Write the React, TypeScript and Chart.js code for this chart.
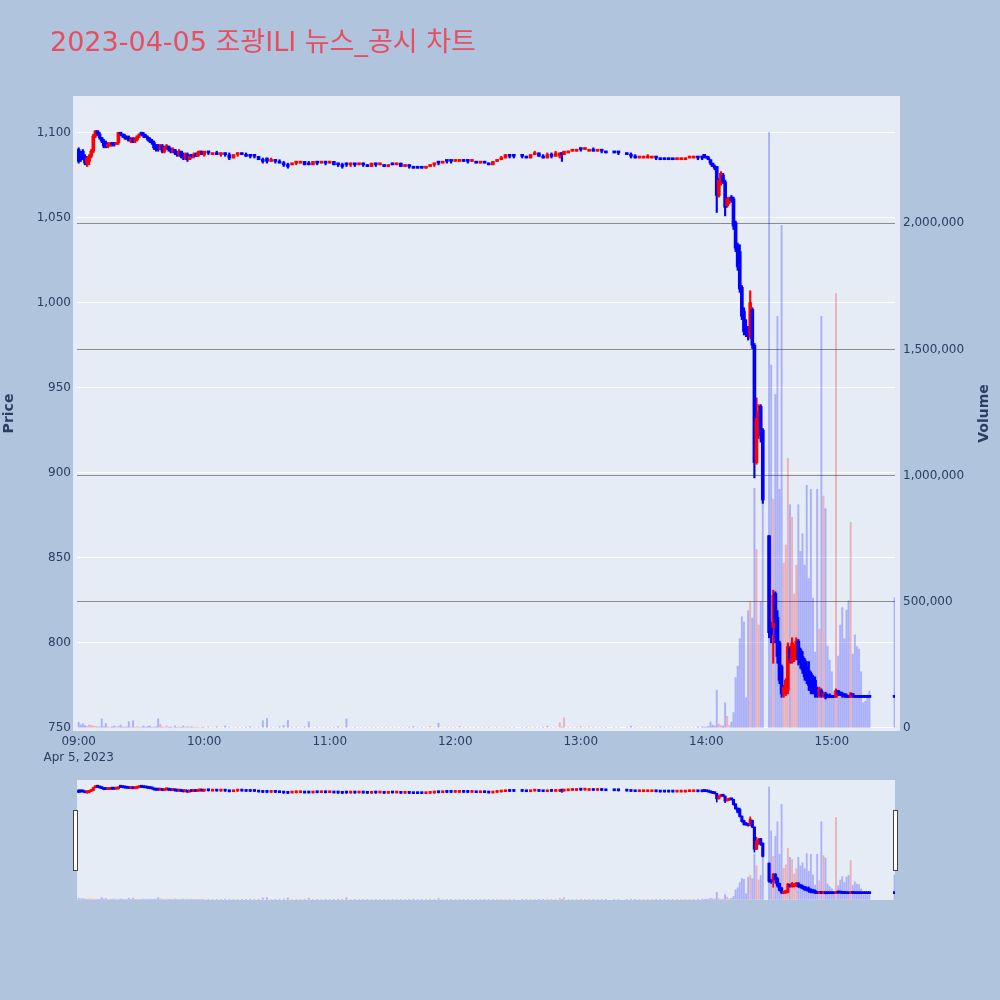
import React, { useEffect, useRef } from 'react';
import { Chart, registerables } from 'chart.js';

Chart.register(...registerables);

// ---------- texts ----------
const TITLE = '2023-04-05 조광ILI 뉴스_공시 차트';
const PRICE_TITLE = 'Price';
const VOLUME_TITLE = 'Volume';
const DATE_LABEL = 'Apr 5, 2023';

// ---------- axes ----------
const X_TICKS = [0, 60, 120, 180, 240, 300, 360];
const X_TICK_LABELS = ['09:00', '10:00', '11:00', '12:00', '13:00', '14:00', '15:00'];
const PRICE_TICKS = [750, 800, 850, 900, 950, 1000, 1050, 1100];
const VOLUME_TICKS = [0, 500000, 1000000, 1500000, 2000000];
const X_RANGE = [-0.8, 390.2];
const PRICE_RANGE = [748.2, 1121.45];
const VOLUME_RANGE = [-11900, 2504500];

// ---------- data (minutes after 09:00) ----------
const MINUTES = [
  0, 1, 2, 3, 4, 5, 6, 7, 8, 9,
  10, 11, 12, 13, 14, 15, 16, 17, 18, 19,
  20, 21, 22, 23, 24, 25, 26, 27, 28, 29,
  30, 31, 32, 33, 34, 35, 36, 37, 38, 39,
  40, 41, 42, 43, 44, 45, 46, 47, 48, 49,
  50, 51, 52, 53, 54, 55, 56, 57, 58, 59,
  60, 62, 64, 66, 68, 70, 72, 74, 76, 78,
  80, 82, 84, 86, 88, 90, 92, 94, 96, 98,
  100, 102, 104, 106, 108, 110, 112, 114, 116, 118,
  120, 122, 124, 126, 128, 130, 132, 134, 136, 138,
  140, 142, 144, 146, 148, 150, 152, 154, 156, 158,
  160, 162, 164, 166, 168, 170, 172, 174, 176, 178,
  180, 182, 184, 186, 188, 190, 192, 194, 196, 198,
  200, 202, 204, 206, 208,
  212, 214, 216, 218, 220, 222, 224, 226, 228, 230,
  231,
  232, 234, 236, 238, 240, 242, 244, 246, 248, 250, 252,
  256, 258,
  262, 264, 266, 268, 270, 272, 274, 276, 278, 280, 282, 284, 286, 288, 290, 292, 294, 296, 298,
  299, 300, 301, 302, 303, 304, 305, 306, 307, 308, 309,
  310, 311, 312, 313, 314, 315, 316, 317, 318, 319,
  320, 321, 322, 323, 324, 325, 326, 327,
  330, 331, 332, 333, 334, 335, 336, 337, 338, 339,
  340, 341, 342, 343, 344, 345, 346, 347, 348, 349,
  350, 351, 352, 353, 354, 355, 356, 357, 358, 359,
  360, 361, 362, 363, 364, 365, 366, 367, 368, 369,
  370, 371, 372, 373, 374, 375, 376, 377, 378,
  390,
];

const OPEN = [
  1090, 1088, 1089, 1086, 1082, 1083, 1086, 1089, 1098, 1101,
  1099, 1097, 1095, 1094, 1092, 1092, 1094, 1093, 1093, 1094,
  1100, 1099, 1098, 1097, 1097, 1095, 1096, 1095, 1096, 1098,
  1099, 1099, 1098, 1097, 1096, 1095, 1094, 1091, 1092, 1090,
  1092, 1089, 1091, 1092, 1090, 1089, 1090, 1088, 1087, 1089,
  1086, 1085, 1087, 1084, 1086, 1086, 1087, 1086, 1088, 1089,
  1087, 1089, 1087, 1088, 1087, 1088, 1087, 1085, 1087, 1088,
  1087, 1086, 1086, 1086, 1084, 1085, 1083, 1084, 1083, 1082,
  1081, 1081, 1082, 1082, 1083, 1082, 1081, 1083, 1082, 1083,
  1082, 1083, 1081, 1081, 1082, 1081, 1082, 1081, 1082, 1081,
  1080, 1082, 1081, 1081, 1080, 1081, 1081, 1082, 1080, 1081,
  1080, 1079, 1079, 1079, 1080, 1081, 1083, 1082, 1083, 1083,
  1083, 1083, 1084, 1083, 1083, 1083, 1082, 1082, 1082, 1081,
  1083, 1084, 1085, 1087, 1086,
  1086, 1086, 1085, 1087, 1088, 1086, 1085, 1087, 1086, 1086,
  1088,
  1087, 1088, 1089, 1089, 1090, 1090, 1089, 1090, 1089, 1089, 1089,
  1088, 1088,
  1088, 1087, 1086, 1085, 1085, 1085, 1085, 1086, 1085, 1084, 1084, 1084, 1084, 1084, 1084, 1085, 1085, 1086, 1085,
  1086, 1086, 1085, 1084, 1082, 1080, 1080, 1063, 1070, 1075, 1071,
  1057, 1059, 1062, 1061, 1047, 1034, 1030, 1009, 995, 986,
  983, 980, 996, 975, 906, 925, 939, 925,
  863, 810, 809, 829, 815, 800, 786, 770, 770, 772,
  797, 789, 790, 792, 801, 796, 792, 790, 786, 784,
  782, 780, 778, 772, 769, 772, 769, 770, 769, 769,
  769, 768, 768, 772, 771, 770, 770, 769, 769, 768,
  770, 769, 769, 768, 768, 768, 768, 768, 768,
  768,
];

const HIGH = [
  1091, 1089, 1090, 1087, 1086, 1087, 1090, 1099, 1101, 1101,
  1100, 1097, 1096, 1095, 1094, 1094, 1094, 1094, 1094, 1100,
  1100, 1099, 1099, 1098, 1098, 1097, 1097, 1097, 1098, 1099,
  1100, 1100, 1099, 1098, 1097, 1096, 1095, 1093, 1093, 1093,
  1093, 1092, 1093, 1092, 1091, 1091, 1090, 1089, 1090, 1089,
  1088, 1088, 1088, 1087, 1087, 1088, 1088, 1089, 1089, 1089,
  1089, 1089, 1088, 1089, 1088, 1088, 1088, 1087, 1088, 1088,
  1088, 1087, 1087, 1086, 1085, 1085, 1085, 1084, 1084, 1083,
  1082, 1082, 1083, 1083, 1083, 1083, 1083, 1083, 1083, 1083,
  1083, 1083, 1082, 1082, 1082, 1082, 1082, 1082, 1082, 1081,
  1082, 1082, 1082, 1081, 1081, 1082, 1082, 1082, 1081, 1081,
  1080, 1080, 1080, 1080, 1081, 1082, 1083, 1083, 1083, 1084,
  1084, 1084, 1084, 1084, 1084, 1083, 1083, 1083, 1082, 1083,
  1084, 1086, 1087, 1087, 1086,
  1086, 1086, 1087, 1089, 1088, 1087, 1088, 1088, 1089, 1088,
  1088,
  1089, 1089, 1090, 1090, 1090, 1091, 1090, 1091, 1090, 1089, 1089,
  1089, 1088,
  1088, 1088, 1087, 1086, 1086, 1087, 1086, 1086, 1085, 1085, 1085, 1084, 1085, 1085, 1085, 1086, 1086, 1086, 1086,
  1087, 1086, 1086, 1084, 1082, 1081, 1080, 1073, 1077, 1076, 1072,
  1062, 1062, 1063, 1062, 1048, 1035, 1034, 1010, 997, 990,
  986, 1007, 997, 976, 944, 940, 940, 926,
  863, 812, 831, 830, 819, 801, 787, 775, 779, 800,
  798, 803, 799, 803, 802, 797, 795, 791, 789, 789,
  783, 781, 780, 774, 774, 773, 771, 771, 770, 770,
  769, 769, 773, 772, 771, 771, 770, 770, 769, 771,
  770, 769, 769, 769, 768, 768, 768, 768, 768,
  768,
];

const LOW = [
  1082, 1083, 1084, 1081, 1080, 1081, 1085, 1088, 1097, 1098,
  1096, 1094, 1091, 1091, 1091, 1092, 1092, 1092, 1093, 1093,
  1098, 1097, 1096, 1096, 1095, 1094, 1094, 1094, 1095, 1097,
  1098, 1097, 1097, 1095, 1094, 1093, 1090, 1089, 1089, 1090,
  1088, 1088, 1090, 1089, 1088, 1088, 1087, 1086, 1086, 1085,
  1084, 1084, 1083, 1084, 1085, 1085, 1086, 1086, 1087, 1087,
  1086, 1087, 1087, 1087, 1086, 1086, 1084, 1085, 1086, 1087,
  1086, 1085, 1085, 1084, 1082, 1082, 1083, 1082, 1082, 1080,
  1079, 1081, 1081, 1082, 1081, 1081, 1081, 1081, 1082, 1081,
  1082, 1081, 1080, 1079, 1080, 1080, 1080, 1081, 1080, 1080,
  1080, 1080, 1081, 1080, 1080, 1081, 1081, 1080, 1080, 1079,
  1079, 1079, 1079, 1079, 1080, 1080, 1081, 1082, 1082, 1082,
  1083, 1083, 1083, 1082, 1083, 1082, 1082, 1082, 1081, 1081,
  1083, 1084, 1085, 1085, 1085,
  1085, 1085, 1085, 1087, 1086, 1085, 1085, 1085, 1086, 1085,
  1083,
  1087, 1088, 1089, 1089, 1089, 1090, 1089, 1089, 1089, 1088, 1088,
  1088, 1087,
  1087, 1085, 1085, 1085, 1085, 1085, 1085, 1084, 1084, 1084, 1084, 1084, 1084, 1084, 1084, 1085, 1085, 1084, 1084,
  1085, 1085, 1084, 1081, 1080, 1078, 1053, 1062, 1069, 1070, 1051,
  1056, 1058, 1059, 1043, 1030, 1019, 1006, 990, 981, 980,
  978, 979, 973, 897, 905, 920, 918, 882,
  803, 800, 788, 800, 788, 776, 768, 768, 769, 770,
  788, 788, 789, 790, 787, 785, 782, 778, 776, 772,
  770, 770, 768, 768, 768, 768, 768, 767, 768, 768,
  768, 768, 768, 769, 769, 768, 768, 768, 768, 768,
  768, 768, 768, 768, 768, 768, 768, 768, 768,
  768,
];

const CLOSE = [
  1083, 1085, 1084, 1082, 1085, 1086, 1089, 1098, 1101, 1099,
  1097, 1095, 1092, 1092, 1093, 1094, 1093, 1093, 1094, 1100,
  1099, 1098, 1097, 1096, 1095, 1096, 1095, 1096, 1098, 1099,
  1099, 1098, 1097, 1096, 1095, 1094, 1091, 1090, 1090, 1092,
  1089, 1091, 1092, 1090, 1089, 1090, 1088, 1087, 1089, 1086,
  1085, 1087, 1084, 1086, 1086, 1087, 1086, 1088, 1089, 1087,
  1089, 1088, 1088, 1087, 1088, 1087, 1085, 1087, 1088, 1087,
  1086, 1086, 1086, 1084, 1083, 1083, 1084, 1083, 1082, 1081,
  1080, 1082, 1083, 1083, 1081, 1081, 1083, 1082, 1083, 1082,
  1083, 1081, 1081, 1080, 1081, 1082, 1081, 1082, 1081, 1080,
  1082, 1081, 1082, 1080, 1081, 1081, 1082, 1080, 1081, 1080,
  1079, 1079, 1079, 1080, 1081, 1082, 1082, 1083, 1083, 1083,
  1084, 1084, 1083, 1083, 1084, 1082, 1083, 1082, 1081, 1083,
  1084, 1085, 1087, 1086, 1086,
  1086, 1085, 1087, 1088, 1086, 1085, 1087, 1086, 1088, 1088,
  1087,
  1089, 1089, 1090, 1090, 1090, 1091, 1090, 1089, 1090, 1089, 1088,
  1088, 1088,
  1087, 1086, 1085, 1086, 1086, 1086, 1086, 1085, 1084, 1084, 1084, 1084, 1085, 1085, 1085, 1086, 1086, 1085, 1085,
  1086, 1085, 1084, 1082, 1080, 1079, 1063, 1072, 1076, 1071, 1056,
  1061, 1061, 1060, 1045, 1032, 1021, 1008, 992, 983, 982,
  980, 1000, 975, 906, 932, 936, 922, 884,
  806, 805, 828, 812, 792, 778, 770, 774, 778, 798,
  790, 800, 797, 801, 790, 788, 784, 780, 778, 775,
  772, 771, 770, 769, 773, 769, 770, 768, 768, 768,
  768, 768, 772, 770, 770, 769, 769, 768, 768, 770,
  769, 768, 768, 768, 768, 768, 768, 768, 768,
  768,
];

const VOLUME = [
  22000, 12000, 17000, 10000, 6000, 12000, 10000, 8000, 6000, 5000,
  4000, 36000, 6000, 18000, 4000, 3000, 5000, 8000, 4000, 6000,
  12000, 4000, 3000, 5000, 25000, 4000, 29000, 3000, 5000, 4000,
  3000, 8000, 3000, 6000, 8000, 3000, 4000, 5000, 36000, 15000,
  4000, 3000, 8000, 3000, 4000, 3000, 8000, 3000, 4000, 3000,
  8000, 3000, 5000, 3000, 5000, 3000, 2000, 3000, 2000, 3000,
  3000, 4000, 2000, 5000, 2000, 8000, 3000, 2000, 3000, 2000,
  3000, 5000, 2000, 3000, 29000, 38000, 3000, 2000, 5000, 10000,
  30000, 3000, 4000, 2000, 5000, 25000, 2000, 3000, 2000, 2000,
  3000, 2000, 5000, 2000, 36000, 2000, 3000, 2000, 2000, 2000,
  3000, 2000, 2000, 2000, 3000, 2000, 2000, 2000, 2000, 3000,
  6000, 2000, 2000, 2000, 6000, 2000, 19000, 2000, 2000, 2000,
  3000, 6000, 2000, 2000, 2000, 2000, 2000, 2000, 3000, 2000,
  3000, 2000, 3000, 2000, 2000,
  2000, 3000, 2000, 3000, 2000, 3000, 8000, 2000, 3000, 21000,
  3000,
  40000, 2000, 2000, 3000, 5000, 2000, 4000, 2000, 2000, 2000, 2000,
  2000, 2000,
  2000, 8000, 2000, 2000, 2000, 2000, 2000, 2000, 4000, 2000, 2000, 2000, 2000, 2000, 2000, 2000, 2000, 4000, 5000,
  3000, 4000, 6000, 24000, 12000, 8000, 150000, 16000, 10000, 8000, 100000,
  47000, 10000, 24000, 61000, 200000, 245000, 354000, 441000, 420000, 120000,
  465000, 502000, 435000, 950000, 707000, 408000, 500000, 1100000,
  2361000, 1438000, 907000, 1322000, 1631000, 946000, 1992000, 653000, 725000, 1069000,
  885000, 835000, 531000, 645000, 885000, 700000, 770000, 645000, 962000, 592000,
  946000, 515000, 301000, 946000, 392000, 1631000, 919000, 869000, 325000, 269000,
  223000, 146000, 1722000, 285000, 408000, 477000, 354000, 467000, 504000, 815000,
  293000, 369000, 323000, 313000, 223000, 100000, 107000, 130000, 146000,
  516000,
];

// ---------- styles ----------
const FONT = "'DejaVu Sans', 'Noto Sans CJK KR', sans-serif";
const TEXT_COLOR = '#2a3f5f';
const TITLE_COLOR = '#e84e62';
const PLOT_BG = '#E5ECF6';
const PAGE_BG = '#B0C4DE';
const UP_COLOR = '#ff0000';
const DOWN_COLOR = '#0000ff';
const UP_VOL = 'rgba(255,0,0,0.25)';
const DOWN_VOL = 'rgba(0,0,255,0.25)';

function buildDatasets(bodyW: number, wickW: number, volW: number): any[] {
  const up = MINUTES.map((_, i) => CLOSE[i] > OPEN[i]);
  return [
    {
      type: 'bar',
      label: 'body',
      data: MINUTES.map((m, i) => ({ x: m, y: [OPEN[i], CLOSE[i]] })),
      backgroundColor: up.map((u) => (u ? UP_COLOR : DOWN_COLOR)),
      borderWidth: 0,
      barThickness: bodyW,
      minBarLength: 2,
      grouped: false,
      yAxisID: 'y',
      order: 1,
    },
    {
      type: 'bar',
      label: 'wick',
      data: MINUTES.map((m, i) => ({ x: m, y: [LOW[i], HIGH[i]] })),
      backgroundColor: up.map((u) => (u ? UP_COLOR : DOWN_COLOR)),
      borderWidth: 0,
      barThickness: wickW,
      grouped: false,
      yAxisID: 'y',
      order: 2,
    },
    {
      type: 'bar',
      label: 'volume',
      data: MINUTES.map((m, i) => ({ x: m, y: VOLUME[i] })),
      backgroundColor: up.map((u) => (u ? UP_VOL : DOWN_VOL)),
      borderWidth: 0,
      barThickness: volW,
      grouped: false,
      yAxisID: 'y1',
      order: 3,
    },
  ];
}

const backdropPlugin = {
  id: 'backdrop',
  beforeDraw(chart: any) {
    const { ctx, chartArea: a } = chart;
    ctx.save();
    ctx.fillStyle = PLOT_BG;
    ctx.fillRect(a.left - 4, a.top, a.right - a.left + 9, a.bottom - a.top);
    ctx.restore();
  },
};

const mainTextPlugin = {
  id: 'mainText',
  afterDraw(chart: any) {
    const { ctx, chartArea: a } = chart;
    ctx.save();
    ctx.fillStyle = TITLE_COLOR;
    ctx.font = `27px ${FONT}`;
    ctx.textAlign = 'left';
    ctx.textBaseline = 'alphabetic';
    ctx.fillText(TITLE, 50, 50.5);
    ctx.translate(984, (a.top + a.bottom) / 2);
    ctx.rotate(-Math.PI / 2);
    ctx.fillStyle = TEXT_COLOR;
    ctx.font = `bold 14px ${FONT}`;
    ctx.textAlign = 'center';
    ctx.textBaseline = 'middle';
    ctx.fillText(VOLUME_TITLE, 0, 0);
    ctx.restore();
  },
};

const handlesPlugin = {
  id: 'handles',
  afterDraw(chart: any) {
    const { ctx, chartArea: a } = chart;
    ctx.save();
    ctx.fillStyle = '#ffffff';
    ctx.strokeStyle = '#444444';
    ctx.lineWidth = 1;
    const top = a.top + 30.5;
    const h = 60;
    [a.left - 3.5, a.right - 1.5].forEach((x) => {
      ctx.fillRect(x, top, 4, h);
      ctx.strokeRect(x, top, 4, h);
    });
    ctx.restore();
  },
};

export default function App() {
  const mainRef = useRef<HTMLCanvasElement>(null);
  const sliderRef = useRef<HTMLCanvasElement>(null);

  useEffect(() => {
    Chart.defaults.font.family = FONT;
    const tickFont = { family: FONT, size: 12, lineHeight: 1.3 };

    const main = new Chart(mainRef.current as HTMLCanvasElement, {
      type: 'bar',
      data: { datasets: buildDatasets(3, 1.5, 1.3) },
      options: {
        animation: false,
        responsive: false,
        devicePixelRatio: 1,
        events: [],
        layout: { padding: { top: 96, left: 0, right: 0, bottom: 0 } },
        plugins: { legend: { display: false }, tooltip: { enabled: false }, title: { display: false } },
        scales: {
          x: {
            type: 'linear',
            min: X_RANGE[0],
            max: X_RANGE[1],
            offset: false,
            grid: { display: false, drawTicks: false, offset: false },
            border: { display: false },
            afterBuildTicks: (s: any) => {
              s.ticks = X_TICKS.map((v) => ({ value: v }));
            },
            afterFit: (s: any) => {
              s.height = 770 - 731;
            },
            ticks: {
              autoSkip: false,
              maxRotation: 0,
              minRotation: 0,
              padding: 3,
              color: TEXT_COLOR,
              font: tickFont,
              callback: (_v: any, i: number) => (i === 0 ? [X_TICK_LABELS[0], DATE_LABEL] : X_TICK_LABELS[i]),
            },
          },
          y: {
            type: 'linear',
            position: 'left',
            min: PRICE_RANGE[0],
            max: PRICE_RANGE[1],
            afterBuildTicks: (s: any) => {
              s.ticks = PRICE_TICKS.map((v) => ({ value: v }));
            },
            afterFit: (s: any) => {
              s.width = 77;
            },
            grid: { color: '#ffffff', lineWidth: 1, drawTicks: false },
            border: { display: false },
            ticks: {
              autoSkip: false,
              padding: 6,
              color: TEXT_COLOR,
              font: tickFont,
              callback: (v: any) => Number(v).toLocaleString('en-US'),
            },
            title: {
              display: true,
              text: PRICE_TITLE,
              color: TEXT_COLOR,
              font: { family: FONT, size: 14, weight: 'bold' },
              padding: { top: 1, bottom: 0 },
            },
          },
          y1: {
            type: 'linear',
            position: 'right',
            min: VOLUME_RANGE[0],
            max: VOLUME_RANGE[1],
            afterBuildTicks: (s: any) => {
              s.ticks = VOLUME_TICKS.map((v) => ({ value: v }));
            },
            afterFit: (s: any) => {
              s.width = 105;
            },
            grid: {
              drawTicks: false,
              lineWidth: 1,
              color: (c: any) => (c.tick && c.tick.value === 0 ? 'rgba(0,0,0,0)' : '#8c8c8c'),
            },
            border: { display: false },
            ticks: {
              autoSkip: false,
              padding: 8,
              color: TEXT_COLOR,
              font: tickFont,
              callback: (v: any) => Number(v).toLocaleString('en-US'),
            },
          },
        },
      } as any,
      plugins: [backdropPlugin, mainTextPlugin],
    });

    const slider = new Chart(sliderRef.current as HTMLCanvasElement, {
      type: 'bar',
      data: { datasets: buildDatasets(2.5, 1, 1.2) },
      options: {
        animation: false,
        responsive: false,
        devicePixelRatio: 1,
        events: [],
        layout: { padding: { top: 10, left: 77, right: 105, bottom: 10 } },
        plugins: { legend: { display: false }, tooltip: { enabled: false }, title: { display: false } },
        scales: {
          x: { type: 'linear', display: false, min: X_RANGE[0], max: X_RANGE[1], offset: false, grid: { offset: false } },
          y: { type: 'linear', display: false, min: PRICE_RANGE[0], max: PRICE_RANGE[1] },
          y1: { type: 'linear', display: false, position: 'right', min: VOLUME_RANGE[0], max: VOLUME_RANGE[1] },
        },
      } as any,
      plugins: [
        {
          id: 'sliderBg',
          beforeDraw(chart: any) {
            const { ctx, chartArea: a } = chart;
            ctx.save();
            ctx.fillStyle = PLOT_BG;
            ctx.fillRect(a.left, a.top, a.right - a.left, a.bottom - a.top);
            ctx.restore();
          },
        },
        handlesPlugin,
      ],
    });

    return () => {
      main.destroy();
      slider.destroy();
    };
  }, []);

  return (
    <div
      style={{
        position: 'absolute',
        left: 0,
        top: 0,
        width: 1000,
        height: 1000,
        background: PAGE_BG,
        overflow: 'hidden',
      }}
    >
      <canvas
        ref={mainRef}
        width={1000}
        height={770}
        style={{ position: 'absolute', left: 0, top: 0, width: 1000, height: 770 }}
      />
      <canvas
        ref={sliderRef}
        width={1000}
        height={140}
        style={{ position: 'absolute', left: 0, top: 770, width: 1000, height: 140 }}
      />
    </div>
  );
}
